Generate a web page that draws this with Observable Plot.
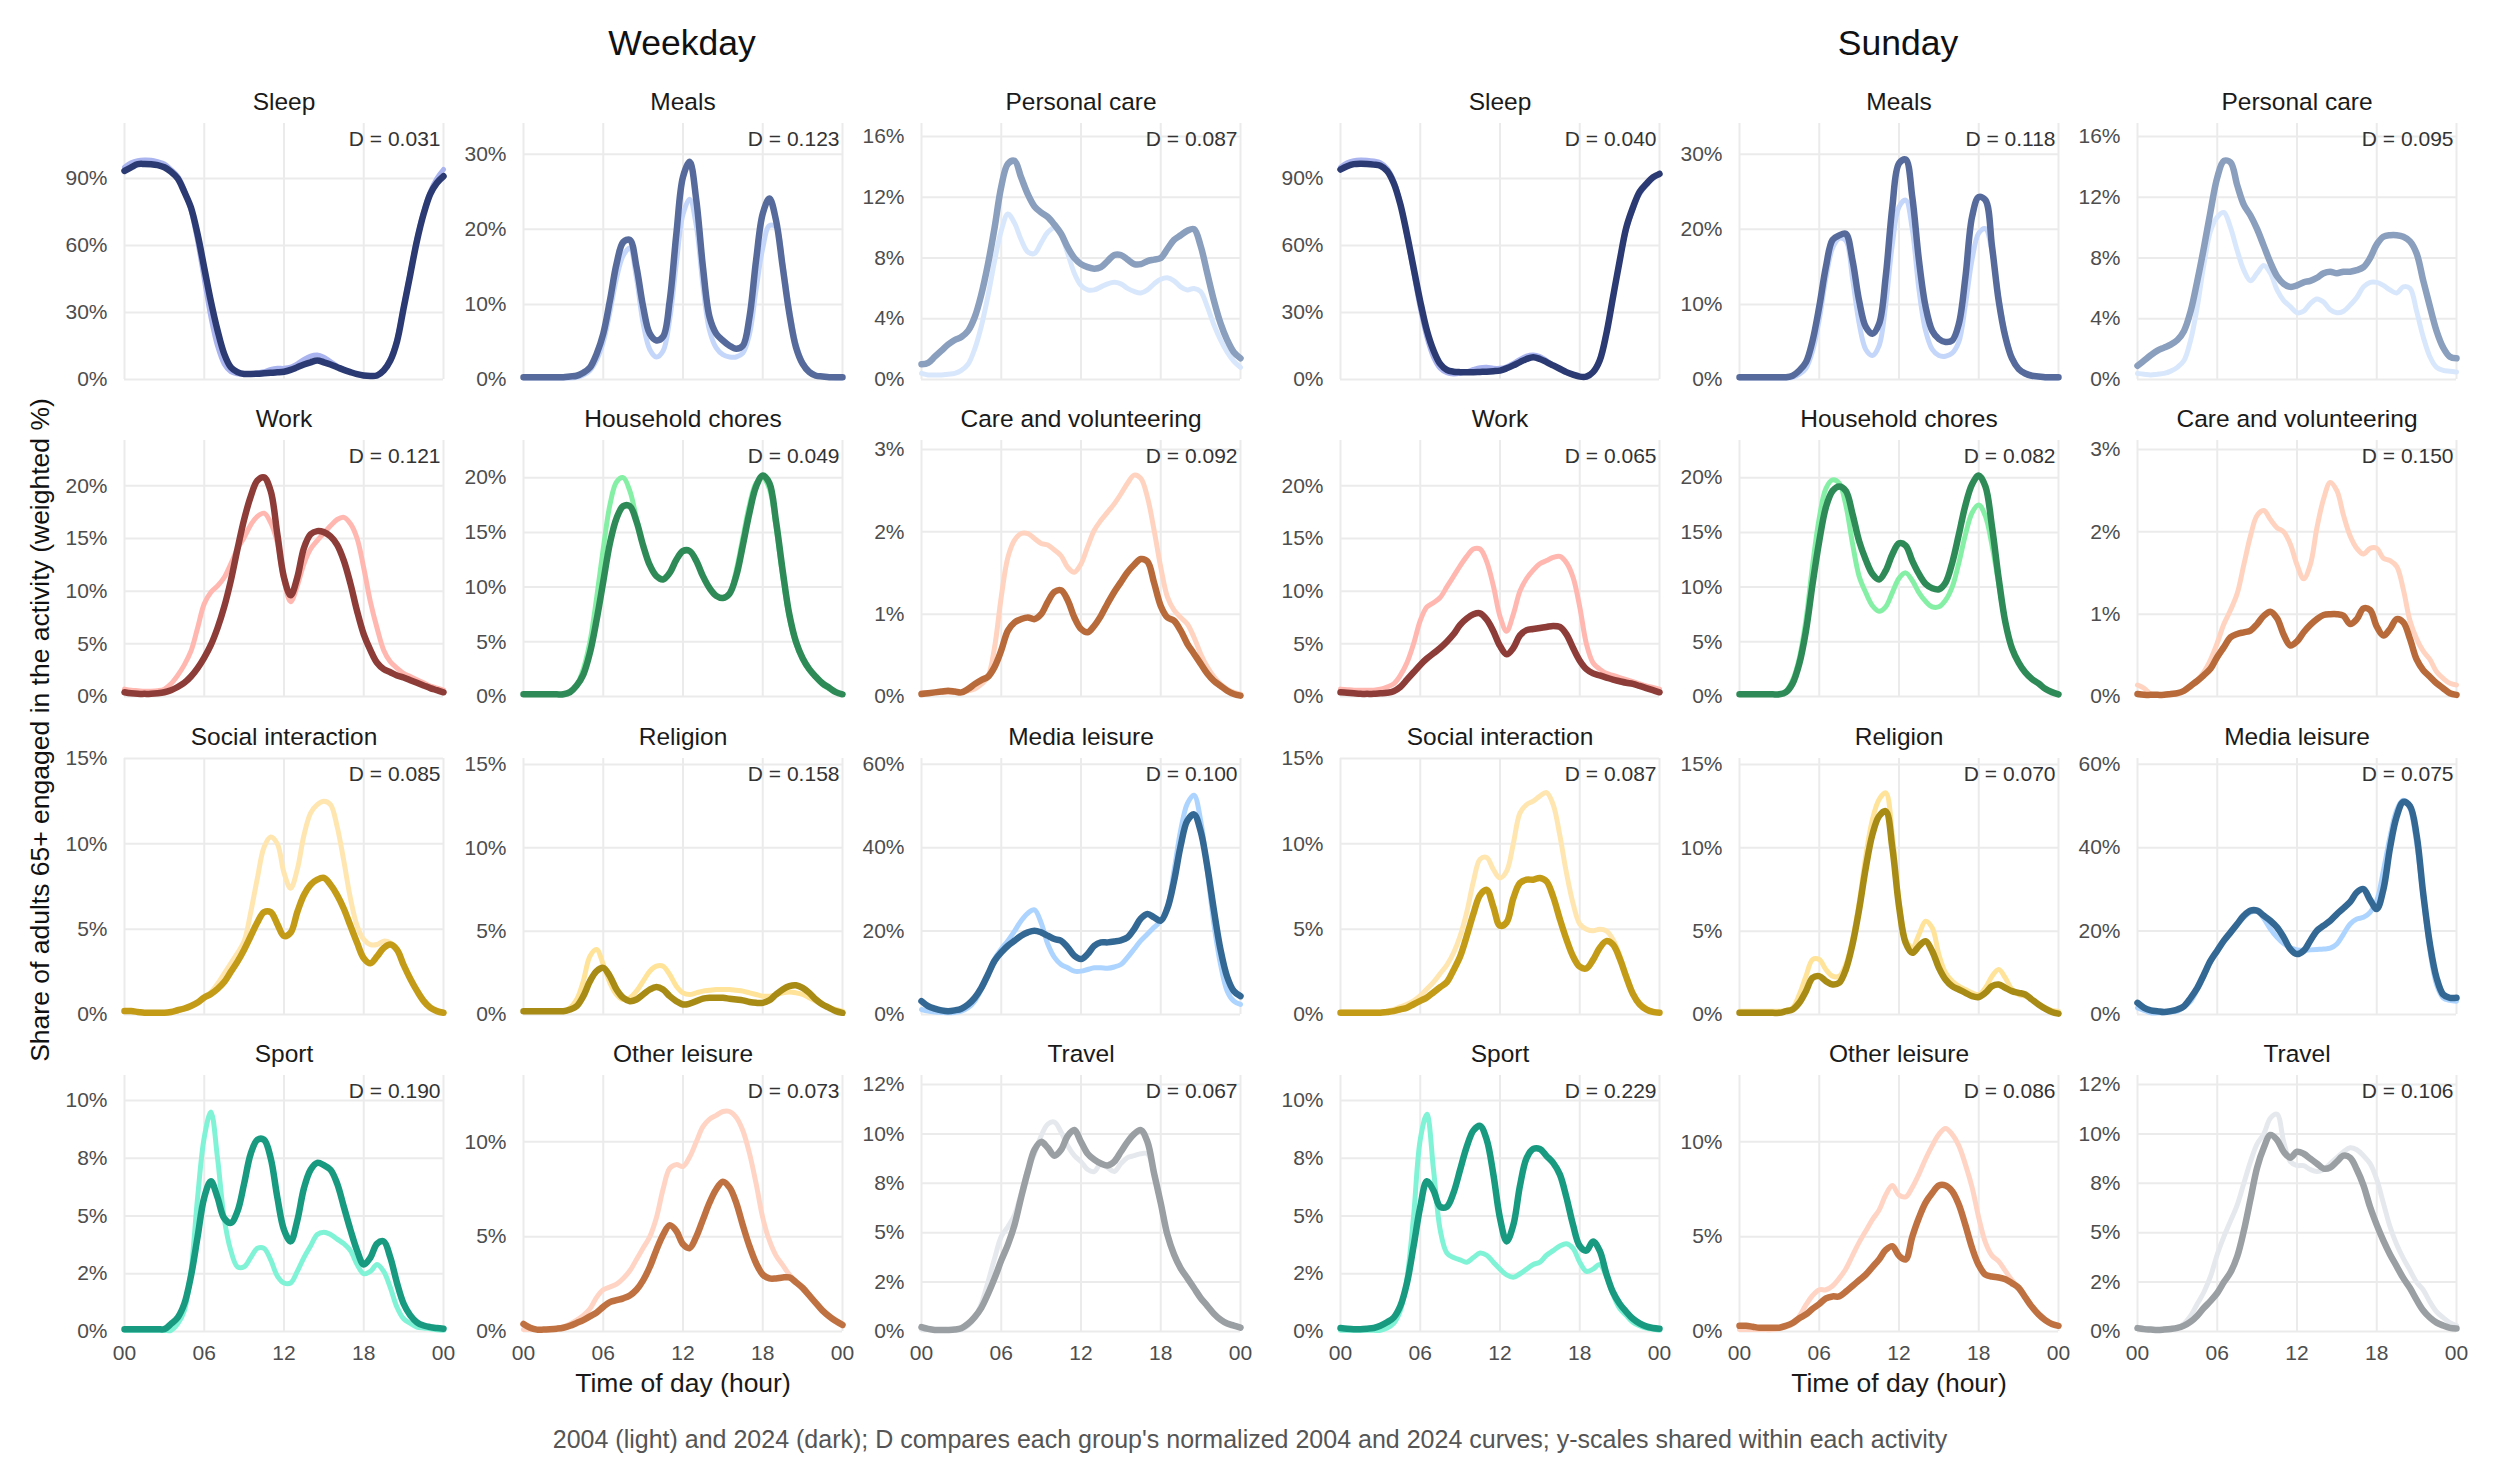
<!DOCTYPE html>
<html>
<head>
<meta charset="utf-8">
<script src="https://cdn.jsdelivr.net/npm/d3@7"></script>
<script src="https://cdn.jsdelivr.net/npm/@observablehq/plot@0.6"></script>
<style>
  html, body { margin: 0; padding: 0; background: #fff; }
  #root { position: relative; width: 2500px; height: 1468px; font-family: "Liberation Sans", Arial, sans-serif; }
  .lbl { position: absolute; white-space: nowrap; }
  #root svg { position: absolute; overflow: visible; }
</style>
</head>
<body>
<div id="root"></div>
<script>
// ---------------- categories & ticks ----------------
const hours = d3.range(0, 24.5, 0.5);
const dayTypes = ["Weekday", "Sunday"];
const activities = ["Sleep", "Meals", "Personal care", "Work", "Household chores", "Care and volunteering",
  "Social interaction", "Religion", "Media leisure", "Sport", "Other leisure", "Travel"];
const lightColors = ["#aab4ee", "#c5d6fb", "#d9e7fc", "#ffb7b0", "#85f0a5", "#ffd3bf",
  "#ffe6b0", "#ffe399", "#acd4ff", "#80f3d6", "#ffd4c4", "#e5e9ed"];
const darkColors = ["#2b3a73", "#566b9b", "#8a9ebd", "#8e3c37", "#2e8b57", "#b86a3a",
  "#c49b17", "#a88b14", "#346894", "#179a80", "#c07141", "#9a9fa3"];
const yTops = [114.6, 34.1, 16.86, 24.3, 23.4, 3.11, 15, 15.36, 61.4, 11.08, 13.5, 12.96];
const yTicks = [[0,30,60,90],[0,10,20,30],[0,4,8,12,16],[0,5,10,15,20],[0,5,10,15,20],[0,1,2,3],
  [0,5,10,15],[0,5,10,15],[0,20,40,60],[0,2.5,5,7.5,10],[0,5,10],[0,2.5,5,7.5,10,12.5]];
const yTickLabels = [["0%","30%","60%","90%"],["0%","10%","20%","30%"],["0%","4%","8%","12%","16%"],
  ["0%","5%","10%","15%","20%"],["0%","5%","10%","15%","20%"],["0%","1%","2%","3%"],
  ["0%","5%","10%","15%"],["0%","5%","10%","15%"],["0%","20%","40%","60%"],
  ["0%","2%","5%","8%","10%"],["0%","5%","10%"],["0%","2%","5%","8%","10%","12%"]];
const xTicks = [0, 6, 12, 18, 24];
const xTickLabels = ["00", "06", "12", "18", "00"];
const dWeekday = ["0.031","0.123","0.087","0.121","0.049","0.092","0.085","0.158","0.100","0.190","0.073","0.067"];
const dSunday  = ["0.040","0.118","0.095","0.065","0.082","0.150","0.087","0.070","0.075","0.229","0.086","0.106"];

// ---------------- series values (% of adults 65+, half-hour steps 00:00..24:00) ----------------
// Weekday
const sleepWd04 = [95,97,98,98.3,98.2,97.5,96.5,94,91,85,76,62,45,28,15,7,3.5,2.5,2.2,2.5,3,3.5,4.5,5,5,5.5,7,9,10.5,11,10,8,6,4.5,3.3,2.3,1.6,1.5,2,4.5,9.5,18,33,48,63,75,84,90,94];
const sleepWd24 = [93.4,95,96.4,96.5,96.4,96,95,93,90,84,77,65,50,35,22,11.5,5.5,3.3,2.5,2.5,2.6,2.8,3,3.2,3.5,4.3,5.5,6.7,7.7,8.5,7.7,6.7,5.5,4.3,3.3,2.4,1.8,1.6,1.8,4,8.5,17,32,47,62,74,83,88,91];
const mealsWd04 = [0.2,0.2,0.2,0.2,0.2,0.2,0.2,0.2,0.3,0.6,1.2,2.6,5,9,13.5,16.5,17.5,13.5,7.5,4,3,3.8,8,15.5,22,24,20.5,12.5,6.5,4.2,3.3,3,3,3.5,6,12,17.5,20.5,20.3,15.5,9.5,4.8,2.3,1.1,0.6,0.4,0.3,0.2,0.2];
const mealsWd24 = [0.3,0.3,0.3,0.3,0.3,0.3,0.3,0.4,0.5,0.9,1.6,3.4,6.1,10.5,15.4,18.3,18.6,15,9.7,6.1,5.2,5.7,10.5,19.4,27,29,23.9,15,8.3,6.1,5.2,4.5,4.1,4.5,8.3,15.9,22.1,24.1,21.2,15,8.8,4.3,2.1,1,0.5,0.4,0.3,0.3,0.3];
const careWd04p = [0.4,0.3,0.3,0.3,0.35,0.4,0.6,1,2,3.5,5.5,7.8,9.8,10.9,10.3,9.2,8.4,8.3,9,9.7,10,9.5,8.3,7,6.2,5.9,5.9,6.1,6.3,6.4,6.3,6,5.8,5.7,5.9,6.3,6.6,6.7,6.5,6.1,5.9,6,5.8,4.8,3.6,2.6,1.8,1.2,0.8];
const careWd24p = [1,1.1,1.5,1.9,2.3,2.6,2.8,3.2,4.1,5.6,7.6,10,12.7,14.2,14.4,13.3,12.2,11.4,11,10.7,10.2,9.6,8.7,8,7.6,7.4,7.3,7.4,7.8,8.2,8.2,7.9,7.6,7.6,7.8,7.9,8,8.6,9.2,9.5,9.8,9.9,8.8,7,5.2,3.7,2.6,1.8,1.4];
const workWd04 = [0.7,0.6,0.55,0.5,0.5,0.55,0.7,1.2,2,3,4.3,6.5,8.8,9.9,10.5,11.3,12.6,14,15.1,16.3,17.1,17.4,16.5,14.6,11,9,10.5,12.6,14,14.8,15.5,16.2,16.8,17,16.4,15,12.2,9,6.5,4.4,3.3,2.7,2.2,1.9,1.6,1.3,1,0.8,0.6];
const workWd24 = [0.4,0.3,0.25,0.25,0.25,0.3,0.4,0.6,0.9,1.3,1.9,2.7,3.7,4.9,6.5,8.5,11,14,16.8,19,20.5,20.8,19.5,15.4,11.3,9.6,11.3,14.1,15.4,15.7,15.6,15.2,14.4,12.9,10.7,8.1,5.9,4.4,3.2,2.6,2.3,2,1.8,1.55,1.3,1.05,0.8,0.6,0.4];
const choresWd04 = [0.2,0.2,0.2,0.2,0.2,0.2,0.2,0.4,1,2.5,5,9,13.5,17.5,19.6,20,18.8,16.3,13.8,12,11,10.8,11.3,12.5,13.3,13.3,12.4,11,9.9,9.2,9,9.4,11.5,14.5,17.5,19.5,20,19,15.5,11,7.2,4.8,3.4,2.4,1.7,1.1,0.7,0.4,0.2];
const choresWd24 = [0.2,0.2,0.2,0.2,0.2,0.2,0.2,0.4,1,2,4,7,10.5,14,16.3,17.4,17.4,16,13.8,12,11,10.7,11.3,12.5,13.3,13.3,12.4,11,9.9,9.2,9,9.4,11,13.8,16.8,19.2,20.2,19.5,16,11.5,7.5,5,3.5,2.5,1.8,1.2,0.8,0.4,0.2];
const volWd04 = [0.05,0.05,0.05,0.05,0.05,0.05,0.05,0.07,0.09,0.15,0.24,0.6,1.21,1.69,1.9,1.98,1.98,1.92,1.86,1.84,1.78,1.71,1.57,1.51,1.61,1.82,2.02,2.14,2.24,2.34,2.46,2.59,2.69,2.65,2.42,2.02,1.57,1.21,1.05,0.96,0.88,0.72,0.52,0.36,0.24,0.15,0.09,0.05,0.03];
const volWd24 = [0.03,0.04,0.05,0.06,0.07,0.06,0.05,0.09,0.15,0.2,0.24,0.36,0.56,0.8,0.9,0.94,0.96,0.94,1,1.15,1.27,1.29,1.17,0.96,0.82,0.78,0.86,0.98,1.13,1.27,1.39,1.51,1.6,1.67,1.64,1.38,1.1,0.96,0.92,0.8,0.64,0.52,0.4,0.28,0.19,0.13,0.07,0.03,0.01];
const socialWd04 = [0.2,0.2,0.15,0.1,0.1,0.1,0.1,0.15,0.25,0.35,0.5,0.7,1,1.3,1.8,2.4,3,3.6,4.3,6,8,9.8,10.4,10,8.3,7.4,8.5,10.5,11.8,12.3,12.5,12.3,11,9,6.8,5.2,4.4,4.1,4.1,4.3,4.2,3.8,2.9,2.1,1.4,0.8,0.4,0.2,0.1];
const socialWd24 = [0.2,0.2,0.15,0.1,0.1,0.1,0.1,0.15,0.25,0.35,0.5,0.7,1,1.2,1.5,1.9,2.5,3.1,3.8,4.6,5.4,6,6,5.3,4.6,4.8,6,7,7.6,7.9,8,7.6,7,6.2,5.2,4.2,3.3,3,3.4,3.9,4.1,3.8,2.9,2.1,1.4,0.8,0.4,0.2,0.1];
const religionWd04 = [0.2,0.2,0.2,0.2,0.2,0.2,0.2,0.4,0.9,2,3.5,3.9,3,1.9,1.2,0.9,1,1.4,2,2.6,2.9,2.9,2.4,1.7,1.3,1.2,1.3,1.4,1.45,1.5,1.5,1.5,1.45,1.4,1.3,1.2,1.1,1.1,1.2,1.3,1.35,1.3,1.2,1,0.8,0.6,0.4,0.3,0.2];
const religionWd24 = [0.2,0.2,0.2,0.2,0.2,0.2,0.2,0.3,0.5,1.1,2,2.6,2.8,2.3,1.5,1,0.8,0.9,1.2,1.5,1.65,1.5,1.1,0.8,0.6,0.65,0.8,0.95,1,1,1,0.95,0.9,0.85,0.75,0.7,0.7,0.85,1.2,1.5,1.7,1.75,1.6,1.3,0.9,0.6,0.4,0.2,0.1];
const mediaWd04 = [1.2,0.8,0.6,0.5,0.4,0.5,0.8,1.6,3.2,6,9.6,13.3,15.7,17.7,20,22.5,24.3,25.1,22,16.9,13.7,12,11.2,10.4,10.4,10.8,11.2,11.2,11.1,11.4,12,13.7,15.7,17.7,19.3,20.9,22.5,25.7,34.5,44.2,50.6,52.6,46.6,34.5,21.7,12,5.6,3.2,2.4];
const mediaWd24 = [3.2,2,1.4,1,0.8,1,1.4,2.4,4,6.4,9.6,12.9,14.9,16.5,17.7,18.9,19.7,20.1,19.7,18.9,18.1,17.7,16.1,14.1,13.3,14.5,16.5,17.3,17.3,17.5,17.8,18.5,20.5,23,24.1,23.3,22.5,25.5,32,40.5,46.5,48,44,35.5,25,15.5,9,5.6,4.4];
const sportWd04 = [0.05,0.05,0.05,0.05,0.05,0.05,0.05,0.05,0.33,0.9,2.6,5.8,8.4,9.5,7.5,4.9,3.5,2.8,2.8,3.2,3.6,3.6,3.1,2.4,2.1,2.1,2.6,3.2,3.7,4.2,4.3,4.2,4,3.8,3.5,2.9,2.5,2.6,2.9,2.6,1.9,1.05,0.55,0.35,0.19,0.15,0.12,0.08,0.05];
const sportWd24 = [0.1,0.1,0.1,0.1,0.1,0.1,0.1,0.33,0.6,1.2,2.4,4.1,5.8,6.5,5.8,4.9,4.7,5.2,6.4,7.7,8.3,8.3,7.5,5.8,4.4,3.9,4.8,6.2,7,7.3,7.2,7,6.4,5.4,4.4,3.5,2.9,3.2,3.8,3.9,3.2,2.1,1.2,0.7,0.4,0.26,0.19,0.15,0.12];
const otherWd04 = [0.1,0.1,0.1,0.1,0.1,0.15,0.25,0.4,0.6,0.85,1.2,1.8,2.2,2.35,2.5,2.8,3.2,3.8,4.4,5,6,7.5,8.6,8.8,8.7,9.2,10,10.8,11.2,11.4,11.6,11.6,11.3,10.6,9.4,7.8,6,4.8,4,3.5,3,2.6,2.3,1.9,1.5,1.1,0.8,0.5,0.3];
const otherWd24 = [0.4,0.2,0.1,0.1,0.12,0.15,0.2,0.3,0.45,0.6,0.8,1,1.3,1.55,1.65,1.75,1.9,2.2,2.7,3.4,4.3,5.1,5.6,5.3,4.6,4.4,5,5.9,6.8,7.5,7.9,7.6,6.8,5.6,4.5,3.6,3,2.8,2.8,2.85,2.85,2.6,2.3,1.9,1.5,1.1,0.8,0.55,0.35];
const travelWd04 = [0.1,0.1,0.1,0.1,0.1,0.1,0.1,0.3,0.7,1.4,2.5,3.7,4.8,5.3,5.9,7,8.2,9,9.9,10.5,10.6,10.1,9.4,8.9,8.6,8.2,8.1,8.5,8.3,8.1,8.5,8.8,8.9,9,9,8,6.5,4.9,3.9,3.2,2.7,2.2,1.7,1.3,0.9,0.6,0.4,0.3,0.2];
const travelWd24 = [0.22,0.13,0.08,0.08,0.08,0.1,0.17,0.39,0.73,1.2,1.9,2.7,3.6,4.4,5.4,6.8,8.1,9.2,9.6,9.3,8.9,9.2,9.9,10.2,9.6,9,8.7,8.5,8.4,8.6,9.1,9.6,10,10.2,9.6,8,6.5,4.9,3.9,3.2,2.7,2.2,1.7,1.3,0.9,0.6,0.4,0.3,0.2];
// Sunday
const sleepSu04 = [95,97,98,98.3,98.2,97.8,97,94.5,89,79,64,48,32,19,10,5,3,2.5,2.8,3.5,4.5,5.3,5.5,5,5,5.7,7.2,9,10.5,11,10.3,8.5,6.5,4.6,3,2,1.3,1.5,3.5,9,21,37,53,67,76,83,87,90,92.5];
const sleepSu24 = [94,95.5,96.4,96.6,96.5,96.2,95.7,93.4,88,78.5,65,50,35,22,13,7,4.3,3.5,3.3,3.3,3.3,3.4,3.5,3.7,4,5,6.3,7.8,9.2,10,9.2,7.8,6.3,4.8,3.3,2.2,1.3,1.3,3.3,8.5,20.4,36.8,53,68,77,84,87.5,90.5,92];
const mealsSu04 = [0.2,0.2,0.2,0.2,0.2,0.2,0.2,0.2,0.3,0.7,1.5,3.8,8,13.5,17.5,18.8,18.5,13.5,7.5,4,3.2,4.5,10,18,23,23.9,20,12,6.5,4,3.2,3.1,3.5,5,10,16,19.5,20.1,17,11,6,3,1.4,0.7,0.4,0.3,0.2,0.2,0.2];
const mealsSu24 = [0.3,0.3,0.3,0.3,0.3,0.3,0.3,0.3,0.5,1.2,2.3,5.2,9.7,15,18.6,19.2,19.4,15.9,10.5,7,6.1,7.4,13.7,23,28.8,29.3,24.3,15.9,9.7,6.5,5.4,5,5.2,7.4,13.7,21.7,24.3,23.9,17.7,10.5,5.7,2.8,1.4,0.8,0.5,0.4,0.3,0.3,0.3];
const careSu04p = [0.4,0.35,0.3,0.35,0.4,0.55,0.8,1.25,2.6,4.8,7.6,9.8,10.7,11,10,8.5,7.2,6.5,7,7.5,7,5.9,5.2,4.8,4.4,4.5,5,5.3,5.1,4.6,4.4,4.5,4.9,5.4,6.1,6.4,6.4,6.2,5.9,5.7,6.1,6,4.5,2.8,1.5,0.8,0.6,0.55,0.5];
const careSu24p = [0.9,1.25,1.6,1.9,2.1,2.3,2.6,3.2,4.5,6.5,8.7,11.1,13.3,14.4,14.3,12.8,11.5,10.8,9.9,8.8,7.7,6.8,6.3,6.1,6.2,6.4,6.5,6.7,7,7.1,7,7.1,7.1,7.2,7.4,8,8.9,9.4,9.5,9.5,9.4,9.1,8.3,6.5,4.8,3.2,2.1,1.5,1.4];
const workSu04 = [0.7,0.65,0.6,0.6,0.6,0.6,0.7,0.9,1.2,2,3.2,5,7.2,8.5,8.9,9.4,10.4,11.4,12.4,13.3,14,14,12.8,10.5,7.6,6.2,7.8,10,11.2,12,12.6,12.9,13.2,13.3,12.7,11.3,8.5,5,3.2,2.6,2.2,2,1.8,1.6,1.4,1.2,1,0.85,0.7];
const workSu24 = [0.4,0.35,0.3,0.25,0.25,0.25,0.3,0.35,0.5,0.9,1.6,2.3,3,3.6,4.1,4.6,5.2,5.9,6.8,7.4,7.8,7.9,7.3,6.2,4.8,4,4.6,5.8,6.3,6.4,6.5,6.6,6.7,6.6,5.9,4.6,3.4,2.6,2.2,2,1.8,1.6,1.45,1.3,1.2,1,0.8,0.6,0.4];
const choresSu04 = [0.2,0.2,0.2,0.2,0.2,0.2,0.2,0.5,1.5,3.5,7,12,16.3,19,19.8,19.5,17.5,14,11,9.5,8.3,7.8,8.2,9.5,10.8,11.3,10.6,9.5,8.7,8.2,8.2,8.8,10,12.2,14.8,16.8,17.5,16.5,13.8,10.3,6.8,4.4,3.1,2.2,1.6,1.2,0.7,0.4,0.2];
const choresSu24 = [0.2,0.2,0.2,0.2,0.2,0.2,0.2,0.4,1.2,3,6,10.3,14.2,17.3,18.8,19.2,18.8,16.7,14.2,12.5,11.2,10.7,11.5,13,14,13.8,12.4,11.2,10.3,9.9,9.8,10.4,12.2,14.8,17.5,19.4,20.2,19.2,15.5,10.8,6.8,4.4,3.1,2.2,1.6,1.2,0.7,0.4,0.2];
const volSu04 = [0.14,0.1,0.03,0.02,0.02,0.02,0.03,0.06,0.12,0.2,0.3,0.45,0.65,0.88,1.05,1.25,1.6,1.95,2.2,2.26,2.15,2.05,2,1.85,1.6,1.43,1.6,2.05,2.4,2.6,2.5,2.2,1.95,1.8,1.73,1.8,1.8,1.68,1.65,1.58,1.3,0.92,0.7,0.55,0.45,0.3,0.22,0.16,0.14];
const volSu24 = [0.03,0.02,0.02,0.02,0.02,0.03,0.04,0.07,0.13,0.19,0.26,0.34,0.48,0.6,0.72,0.76,0.78,0.8,0.88,0.98,1.03,0.95,0.75,0.62,0.67,0.78,0.87,0.94,0.99,1,1,0.98,0.88,0.94,1.07,1.05,0.85,0.74,0.82,0.94,0.9,0.7,0.45,0.32,0.24,0.16,0.1,0.04,0.02];
const socialSu04 = [0.15,0.15,0.15,0.15,0.15,0.15,0.15,0.2,0.3,0.45,0.6,0.8,1.1,1.5,1.9,2.4,2.9,3.6,4.6,6,7.8,9.1,9.2,8.5,8,8.4,10,11.8,12.3,12.5,12.8,13,12.3,10.5,8.3,6.5,5.3,5,4.9,5,4.9,4.4,3.5,2.3,1.3,0.7,0.35,0.2,0.15];
const socialSu24 = [0.1,0.1,0.1,0.1,0.1,0.1,0.1,0.15,0.2,0.3,0.4,0.6,0.8,1,1.3,1.6,1.9,2.6,3.4,4.6,5.9,7,7.3,6.3,5.2,5.4,6.8,7.7,7.9,7.9,8,7.8,6.9,5.6,4.4,3.4,2.8,2.7,3.2,3.9,4.3,4.1,3.3,2.2,1.2,0.6,0.3,0.15,0.1];
const religionSu04 = [0.2,0.2,0.2,0.2,0.2,0.2,0.2,0.25,0.4,1.2,2.3,3.3,3.3,2.7,2.3,2.3,3,4.5,6.7,9.5,11.7,12.9,13.3,10.8,6.8,4.5,4,4.8,5.6,5.2,3.6,2.5,2,1.7,1.5,1.3,1.2,1.6,2.3,2.7,2.2,1.5,1.2,1.1,0.9,0.6,0.4,0.25,0.2];
const religionSu24 = [0.1,0.1,0.1,0.1,0.1,0.1,0.1,0.2,0.3,0.7,1.4,2.2,2.3,2,1.8,1.9,2.7,4.2,6.3,8.8,10.8,11.9,12.2,10,6.5,4.3,3.7,4.1,4.4,3.8,2.8,2.1,1.7,1.5,1.3,1.1,1.05,1.3,1.7,1.8,1.6,1.4,1.3,1.2,0.9,0.6,0.35,0.15,0.05];
const mediaSu04 = [1.6,1,0.4,0.4,0.4,0.6,0.8,1.8,3.2,6,9.2,12.9,15.7,17.7,19.5,21.5,23.3,24.5,24.9,23,20.5,18.5,17,16,15.5,15.4,15.5,15.6,15.7,15.9,16.9,19.3,21.7,22.9,23.3,24.5,27.3,34.5,42.6,49,51.4,49.4,41,28.1,15.3,7.2,4,3.4,3.2];
const mediaSu24 = [2.8,1.6,1,0.8,0.6,0.8,1.2,2,4,6.4,9.6,12.9,15.3,17.7,19.7,21.7,23.7,24.9,24.9,23.7,22.5,20.9,18.5,15.7,14.5,15.3,17.7,20.1,21.3,22.5,24.1,25.5,27,29.3,30.1,27.5,25.3,30,40,47.5,51,50,43,28.9,16.9,8.8,4.8,4,4];
const sportSu04 = [0.05,0.05,0.05,0.05,0.05,0.05,0.05,0.15,0.35,0.9,2.3,5,8.3,9.4,7,4.4,3.4,3.2,3.1,3,3.2,3.4,3.3,3,2.7,2.45,2.35,2.5,2.7,2.9,3,3.3,3.5,3.7,3.8,3.6,3,2.6,2.7,2.9,2.4,1.6,1,0.7,0.4,0.25,0.15,0.1,0.05];
const sportSu24 = [0.15,0.12,0.1,0.1,0.12,0.15,0.25,0.4,0.6,1.1,2.1,3.7,5.4,6.5,6.1,5.4,5.4,6,7,8,8.7,8.9,8.3,6.8,4.9,3.9,4.6,6.3,7.5,7.9,7.9,7.6,7.3,6.8,5.8,4.6,3.7,3.5,3.9,3.5,2.5,1.7,1.2,0.85,0.55,0.35,0.22,0.15,0.12];
const otherSu04 = [0.1,0.1,0.1,0.1,0.1,0.1,0.15,0.25,0.4,0.8,1.4,1.9,2.2,2.2,2.4,2.8,3.3,4,4.7,5.3,5.9,6.4,7.2,7.7,7.2,7.1,7.6,8.3,9.1,9.8,10.4,10.7,10.4,9.8,8.8,7.6,6,4.7,4,3.7,3.2,2.7,2.3,1.8,1.3,0.9,0.6,0.4,0.3];
const otherSu24 = [0.3,0.3,0.25,0.2,0.2,0.2,0.2,0.3,0.45,0.7,0.9,1.2,1.45,1.75,1.85,1.85,2.1,2.4,2.7,3,3.4,3.8,4.3,4.5,4,3.8,5,6,6.8,7.3,7.7,7.7,7.4,6.7,5.6,4.4,3.5,3,2.9,2.85,2.75,2.55,2.3,1.8,1.3,0.9,0.6,0.4,0.3];
const travelSu04 = [0.2,0.15,0.12,0.1,0.1,0.12,0.2,0.4,0.8,1.4,2,2.8,3.9,4.8,5.6,6.4,7.5,8.6,9.5,10,10.8,11,9.6,8.6,8.4,8.4,8.2,8.1,8.2,8.5,8.8,9.1,9.3,9.2,8.9,8.5,7.7,6.5,5.3,4.4,3.7,3.1,2.5,2.1,1.5,1,0.7,0.45,0.3];
const travelSu24 = [0.17,0.12,0.1,0.08,0.1,0.13,0.18,0.3,0.5,0.8,1.2,1.55,1.95,2.5,3,3.8,5.1,6.7,8.3,9.3,9.95,9.7,9.1,8.8,9.1,9,8.75,8.5,8.25,8.3,8.6,8.9,8.8,8.2,7.4,6.3,5.4,4.6,3.9,3.3,2.7,2.2,1.6,1.06,0.7,0.45,0.3,0.18,0.15];

const seriesByDay = {
  Weekday: [[sleepWd04,sleepWd24],[mealsWd04,mealsWd24],[careWd04p,careWd24p],[workWd04,workWd24],
    [choresWd04,choresWd24],[volWd04,volWd24],[socialWd04,socialWd24],[religionWd04,religionWd24],
    [mediaWd04,mediaWd24],[sportWd04,sportWd24],[otherWd04,otherWd24],[travelWd04,travelWd24]],
  Sunday: [[sleepSu04,sleepSu24],[mealsSu04,mealsSu24],[careSu04p,careSu24p],[workSu04,workSu24],
    [choresSu04,choresSu24],[volSu04,volSu24],[socialSu04,socialSu24],[religionSu04,religionSu24],
    [mediaSu04,mediaSu24],[sportSu04,sportSu24],[otherSu04,otherSu24],[travelSu04,travelSu24]]
};
const dByDay = { Weekday: dWeekday, Sunday: dSunday };

// ---------------- layout ----------------
const root = document.getElementById("root");
const FONT = "'Liberation Sans', Arial, sans-serif";
const colLeft = [124, 523, 921, 1340, 1739, 2137];
const rowTop = [123, 440, 758, 1075];
const plotW = 319, plotH = 256;

function addLabel(text, css) {
  const d = document.createElement("div");
  d.className = "lbl";
  d.textContent = text;
  Object.assign(d.style, css);
  root.appendChild(d);
  return d;
}

dayTypes.forEach((day, g) => {
  const cx = (colLeft[g * 3] + colLeft[g * 3 + 2] + plotW) / 2;
  addLabel(day, { left: cx + "px", top: "43px", transform: "translate(-50%,-50%)", fontSize: "35.5px", color: "#111" });

  activities.forEach((act, i) => {
    const row = Math.floor(i / 3), cg = i % 3;
    const col = g * 3 + cg;
    const [s04, s24] = seriesByDay[day][i];
    const rows04 = hours.map((h, j) => ({ h, v: s04[j] }));
    const rows24 = hours.map((h, j) => ({ h, v: s24[j] }));
    const tickMap = new Map(yTicks[i].map((t, k) => [t, yTickLabels[i][k]]));
    const xMap = new Map(xTicks.map((t, k) => [t, xTickLabels[k]]));
    const ML = 90, MR = 10, MT = 50;
    const MB = row === 3 ? (cg === 1 ? 80 : 45) : 10;
    const marks = [
      Plot.gridX(xTicks, { stroke: "#ebebeb", strokeOpacity: 1, strokeWidth: 2 }),
      Plot.gridY(yTicks[i], { stroke: "#ebebeb", strokeOpacity: 1, strokeWidth: 2 }),
      Plot.line(rows04, { x: "h", y: "v", stroke: lightColors[i], strokeWidth: 5, curve: "catmull-rom", strokeLinejoin: "round", strokeLinecap: "round" }),
      Plot.line(rows24, { x: "h", y: "v", stroke: darkColors[i], strokeWidth: 6.5, curve: "catmull-rom", strokeLinejoin: "round", strokeLinecap: "round" }),
      Plot.text([`D = ${dByDay[day][i]}`], { text: d => d, frameAnchor: "top-right", textAnchor: "end", lineAnchor: "middle", dx: -3, dy: 16, fontSize: 21, fill: "#333" }),
      Plot.text([act], { text: d => d, frameAnchor: "top", lineAnchor: "middle", dy: -21, fontSize: 24.5, fill: "#1a1a1a" })
    ];
    if (row === 3 && cg === 1) {
      marks.push(Plot.text(["Time of day (hour)"], { text: d => d, frameAnchor: "bottom", lineAnchor: "middle", dy: 52, fontSize: 26.5, fill: "#1a1a1a" }));
    }
    const svg = Plot.plot({
      width: ML + plotW + MR,
      height: MT + plotH + MB,
      marginLeft: ML, marginRight: MR, marginTop: MT, marginBottom: MB,
      style: { fontFamily: FONT, fontSize: "21px", color: "#4d4d4d", background: "transparent", overflow: "visible" },
      x: { domain: [0, 24], ticks: xTicks, tickFormat: d => xMap.get(d), tickSize: 0, tickPadding: 14, label: null, axis: row === 3 ? "bottom" : null },
      y: { domain: [0, yTops[i]], ticks: yTicks[i], tickFormat: d => tickMap.get(d), tickSize: 0, tickPadding: 17, label: null },
      marks
    });
    svg.style.left = (colLeft[col] - ML) + "px";
    svg.style.top = (rowTop[row] - MT) + "px";
    root.appendChild(svg);
  });
});

addLabel("Share of adults 65+ engaged in the activity (weighted %)", {
  left: "40px", top: "730px", transform: "translate(-50%,-50%) rotate(-90deg)", fontSize: "26.5px", color: "#111"
});
addLabel("2004 (light) and 2024 (dark); D compares each group's normalized 2004 and 2024 curves; y-scales shared within each activity", {
  left: "1250px", top: "1439px", transform: "translate(-50%,-50%)", fontSize: "25px", color: "#555"
});
</script>
</body>
</html>
